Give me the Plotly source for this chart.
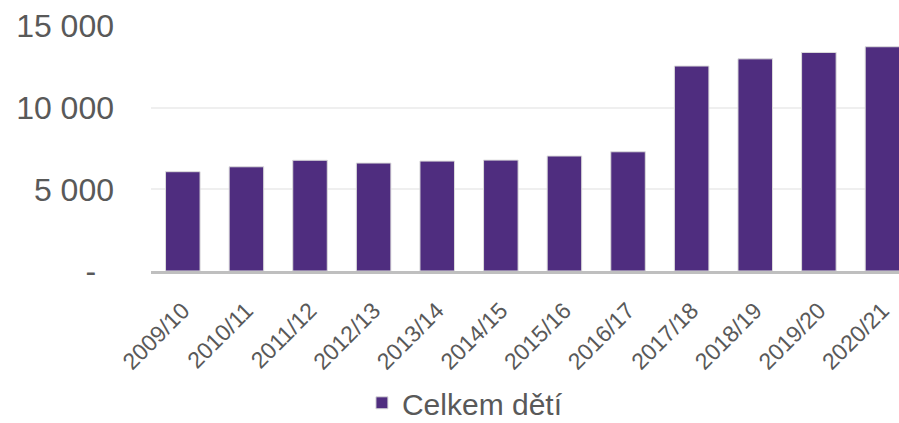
import plotly.graph_objects as go

categories = ["2009/10", "2010/11", "2011/12", "2012/13", "2013/14", "2014/15",
              "2015/16", "2016/17", "2017/18", "2018/19", "2019/20", "2020/21"]
values = [6080, 6380, 6780, 6610, 6730, 6790, 7040, 7300, 12550, 12990, 13380, 13730]
series_name = "Celkem dětí"
y_tickvals = [0, 5000, 10000, 15000]
y_ticktext = ["-\u00a0\u00a0", "5 000", "10 000", "15 000"]

FONT = "Liberation Sans, Arial, sans-serif"
GREY = "#595959"

fig = go.Figure()
fig.add_trace(go.Bar(
    x=list(range(len(categories))),
    y=values,
    name=series_name,
    marker=dict(color="#4F2D7F", line=dict(color="#dcdcdc", width=1)),
    showlegend=True,
))

fig.update_layout(
    width=899, height=423,
    margin=dict(l=151, r=0, t=26, b=152, pad=0, autoexpand=False),
    paper_bgcolor="white", plot_bgcolor="white",
    bargap=0.457,
    font=dict(family=FONT, color=GREY),
    showlegend=True,
    legend=dict(
        orientation="h", x=0.282, xanchor="left", y=-0.538, yanchor="middle",
        font=dict(size=30, color=GREY, family=FONT),
        bgcolor="rgba(0,0,0,0)",
    ),
    xaxis=dict(
        range=[-0.5, 11.26],
        tickmode="array",
        tickvals=list(range(len(categories))),
        ticktext=categories,
        tickangle=-45,
        tickfont=dict(size=23, color=GREY, family=FONT),
        showgrid=False,
        showline=True, linecolor="#bfbfbf", linewidth=3,
        ticks="",
        zeroline=False,
        automargin=False,
        ticklabelstandoff=14,
    ),
    yaxis=dict(
        range=[0, 15000],
        tickmode="array",
        tickvals=y_tickvals,
        ticktext=y_ticktext,
        tickfont=dict(size=32, color=GREY, family=FONT),
        showgrid=True, gridcolor="#efefef", gridwidth=2,
        zeroline=False,
        showline=False,
        ticks="",
        ticklabelstandoff=36,
        automargin=False,
    ),
)

fig.write_html("out.html")
